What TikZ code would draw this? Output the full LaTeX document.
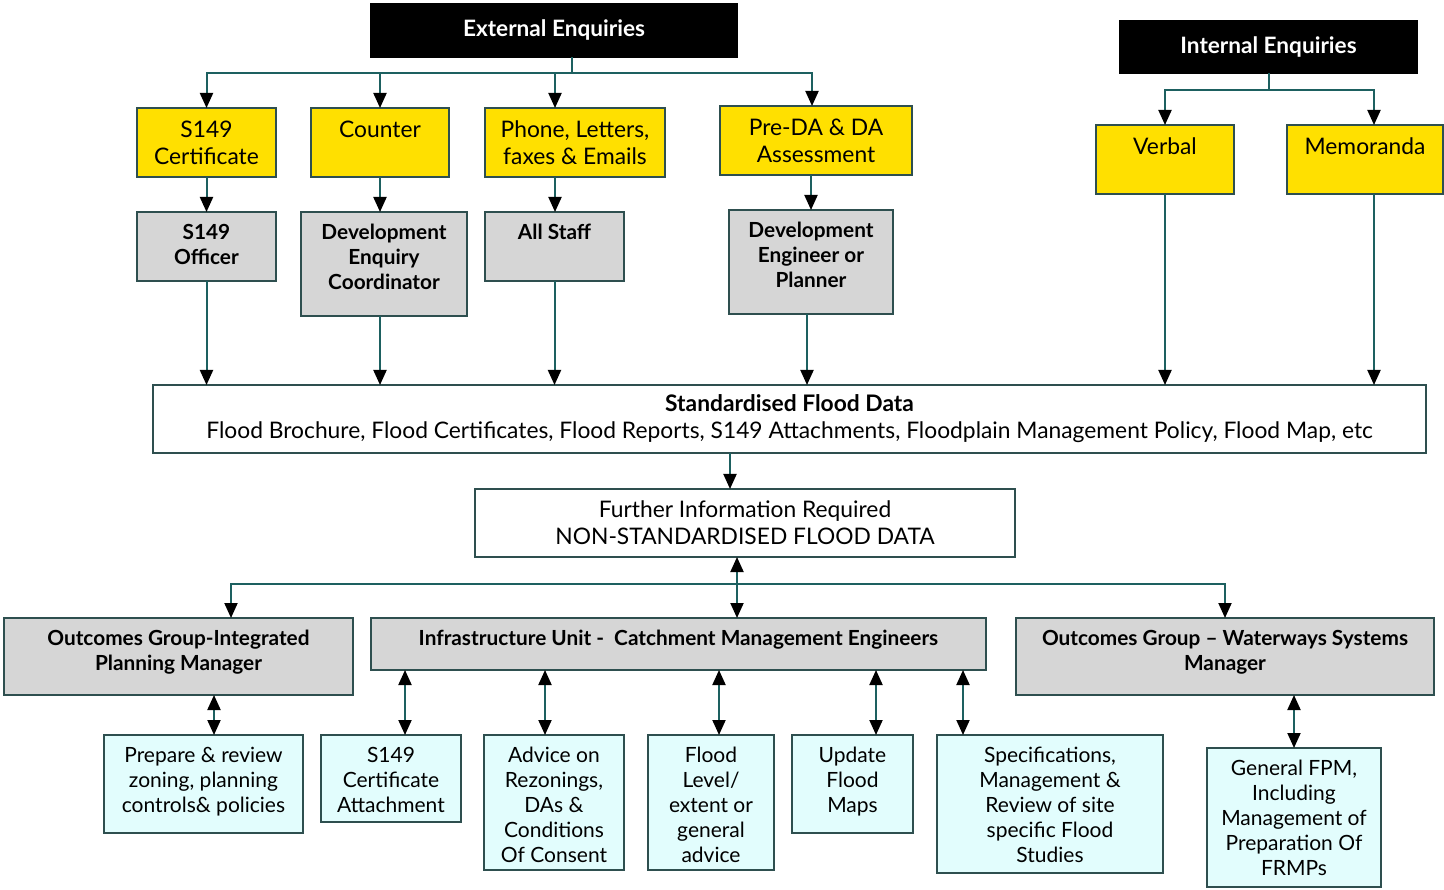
\documentclass[tikz,border=0pt]{standalone}
\usepackage{fontspec}
\setmainfont{Lato}
\usetikzlibrary{arrows.meta}

\definecolor{ylw}{HTML}{FFE000}
\definecolor{gry}{HTML}{D6D6D6}
\definecolor{cyn}{HTML}{E2FDFD}
\definecolor{lnk}{HTML}{1D6060}
\definecolor{bdr}{HTML}{2E4F4F}

\tikzset{
  base/.style={draw=bdr, line width=2.2pt, inner sep=0pt, outer sep=0pt},
  yellowbox/.style={base, fill=ylw},
  greybox/.style={base, fill=gry},
  cyanbox/.style={base, fill=cyn},
  blackbox/.style={base, draw=black, fill=black, text=white,
    font=\fontsize{22.6}{26}\selectfont\bfseries},
  plainbox/.style={base, fill=white, align=center},
  tlabel/.style={anchor=north, inner sep=0pt, yshift=-10pt, align=center},
  regtext/.style={font=\fontsize{21}{25}\selectfont},
  yeltext/.style={font=\fontsize{22.8}{27}\selectfont},
  boldtext/.style={font=\fontsize{20.8}{25}\selectfont\bfseries},
  conn/.style={draw=lnk, line width=2pt},
  arr/.style={conn, -{Triangle[width=13pt,length=15pt,color=black]}},
  darr/.style={conn, {Triangle[width=13pt,length=15pt,color=black]}-{Triangle[width=13pt,length=15pt,color=black]}},
}

% box with top-aligned text: name, x1, y1, x2, y2, box style, text style, text
\newcommand\fbx[8]{%
  \node[#6, minimum width={#4-#2}, minimum height={#5-#3},
        label={[tlabel,#7]north:{\strut #8}}] (#1) at ({(#2+#4)/2},{(#3+#5)/2}) {};}

\begin{document}
\begin{tikzpicture}[x=1pt, y=-1pt]
\useasboundingbox (0,0) rectangle (1444,890);

% headers
\node[blackbox, minimum width=366, minimum height=53] (ext) at (554,30.5) {External Enquiries};
\node[blackbox, minimum width=297, minimum height=52] (int) at (1268.5,47) {Internal Enquiries};

% enquiry channels
\fbx{s149c}{137}{108}{276}{177}{yellowbox}{yeltext}{S149\\Certificate}
\fbx{counter}{311}{108}{449}{177}{yellowbox}{yeltext}{Counter}
\fbx{phone}{485}{108}{665}{177}{yellowbox}{yeltext}{Phone, Letters,\\faxes \& Emails}
\fbx{pre}{720}{106}{912}{175}{yellowbox}{yeltext}{Pre-DA \& DA\\Assessment}
\fbx{verbal}{1096}{125}{1234}{194}{yellowbox}{yeltext}{Verbal}
\fbx{memo}{1287}{125}{1443}{194}{yellowbox}{yeltext}{Memoranda}

% responsible staff
\fbx{s149o}{137}{212}{276}{281}{greybox}{boldtext}{S149\\Officer}
\fbx{dec}{301}{212}{467}{316}{greybox}{boldtext}{Development\\Enquiry\\Coordinator}
\fbx{staff}{485}{212}{624}{281}{greybox}{boldtext}{All Staff}
\fbx{dep}{729}{210}{893}{314}{greybox}{boldtext}{Development\\Engineer or\\Planner}

% flood data
\node[plainbox, minimum width=1273, minimum height=68, font=\fontsize{22.8}{27}\selectfont] (std) at (789.5,419)
  {\textbf{Standardised Flood Data}\\Flood Brochure, Flood Certificates, Flood Reports, S149 Attachments, Floodplain Management Policy, Flood Map, etc};
\node[plainbox, minimum width=540, minimum height=68, font=\fontsize{22.8}{27}\selectfont] (fur) at (745,523)
  {Further Information Required\\NON-STANDARDISED FLOOD DATA};

% groups
\fbx{og1}{4}{618}{353}{695}{greybox}{boldtext}{Outcomes Group-Integrated\\Planning Manager}
\fbx{infra}{371}{618}{986}{670}{greybox}{boldtext}{Infrastructure Unit -\ \ Catchment Management Engineers}
\fbx{og2}{1016}{618}{1434}{695}{greybox}{boldtext}{Outcomes Group -- Waterways Systems\\Manager}

% tasks
\fbx{prep}{104}{735}{303}{833}{cyanbox}{regtext}{Prepare \& review\\zoning, planning\\controls\& policies}
\fbx{s149a}{321}{735}{461}{822}{cyanbox}{regtext}{S149\\Certificate\\Attachment}
\fbx{adv}{484}{735}{624}{870}{cyanbox}{regtext}{Advice on\\Rezonings,\\DAs \&\\Conditions\\Of Consent}
\fbx{flv}{648}{735}{774}{870}{cyanbox}{regtext}{Flood\\Level/\\extent or\\general\\advice}
\fbx{upd}{792}{735}{913}{833}{cyanbox}{regtext}{Update\\Flood\\Maps}
\fbx{spec}{937}{735}{1163}{873}{cyanbox}{regtext}{Specifications,\\Management \&\\Review of site\\specific Flood\\Studies}
\fbx{gen}{1207}{748}{1381}{887}{cyanbox}{regtext}{General FPM,\\Including\\Management of\\Preparation Of\\FRMPs}

% external enquiries fan-out
\coordinate (extS) at ([xshift=18]ext.south);
\coordinate (extJ) at ([yshift=-16]extS);
\draw[conn] (extS) -- (extJ);
\draw[arr] (extJ) -| (s149c.north);
\draw[arr] (extJ) -| (counter.north);
\draw[arr] (extJ) -| ([xshift=-20]phone.north);
\draw[arr] (extJ) -| ([xshift=-4]pre.north);

% internal enquiries fan-out
\coordinate (intJ) at ([yshift=-17]int.south);
\draw[conn] (int.south) -- (intJ);
\draw[arr] (intJ) -| (verbal.north);
\draw[arr] (intJ) -| ([xshift=9]memo.north);

% channel to staff
\draw[arr] (s149c.south) -- (s149o.north);
\draw[arr] (counter.south) -- (counter.south |- dec.north);
\draw[arr] ([xshift=-20]phone.south) -- ([xshift=-20]phone.south |- staff.north);
\draw[arr] (dep.north |- pre.south) -- (dep.north);

% staff to standardised data
\draw[arr] (s149o.south) -- (s149o.south |- std.north);
\coordinate (decS) at ([xshift=-4]dec.south);
\draw[arr] (decS) -- (decS |- std.north);
\draw[arr] (staff.south) -- (staff.south |- std.north);
\coordinate (depS) at ([xshift=-4]dep.south);
\draw[arr] (depS) -- (depS |- std.north);
\draw[arr] (verbal.south) -- (verbal.south |- std.north);
\coordinate (memoS) at ([xshift=9]memo.south);
\draw[arr] (memoS) -- (memoS |- std.north);

% standardised to further information
\coordinate (furN) at ([xshift=-15]fur.north);
\draw[arr] (furN |- std.south) -- (furN);

% further information to groups
\coordinate (furS) at ([xshift=-8]fur.south);
\draw[darr] (furS) -- (furS |- infra.north);
\coordinate (grpJ) at ([yshift=-27]furS);
\draw[arr] (grpJ) -| ([xshift=52.5]og1.north);
\draw[arr] (grpJ) -| (og2.north);

% groups to tasks
\coordinate (prepN) at ([xshift=10.5]prep.north);
\draw[darr] (prepN |- og1.south) -- (prepN);
\coordinate (s149aN) at ([xshift=14]s149a.north);
\draw[darr] (s149aN |- infra.south) -- (s149aN);
\coordinate (advN) at ([xshift=-9]adv.north);
\draw[darr] (advN |- infra.south) -- (advN);
\coordinate (flvN) at ([xshift=8]flv.north);
\draw[darr] (flvN |- infra.south) -- (flvN);
\coordinate (updN) at ([xshift=23.5]upd.north);
\draw[darr] (updN |- infra.south) -- (updN);
\coordinate (specN) at ([xshift=-87]spec.north);
\draw[darr] (specN |- infra.south) -- (specN);
\draw[darr] (og2.south -| gen.north) -- (gen.north);
\end{tikzpicture}
\end{document}
